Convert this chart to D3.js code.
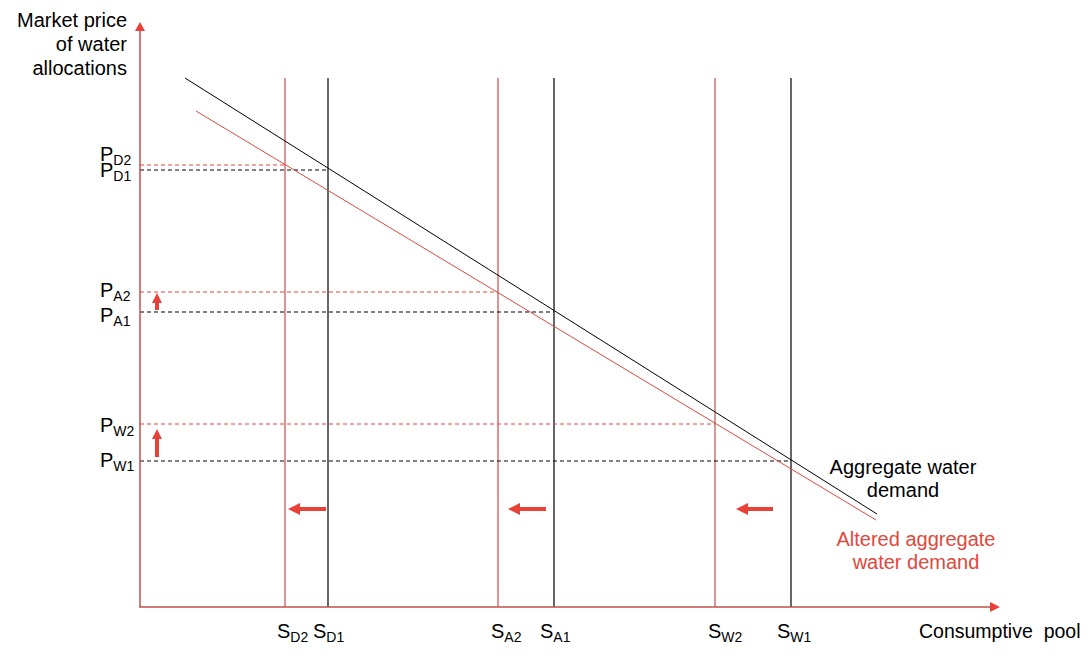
<!DOCTYPE html>
<html><head><meta charset="utf-8">
<script src="https://cdn.jsdelivr.net/npm/d3@7"></script>
<style>body{margin:0;background:#fff}svg{display:block}text{font-family:"Liberation Sans",Arial,sans-serif}</style>
</head><body>
<svg id="c" width="1092" height="656"></svg>
<script>
// Abstract chart units: quantity 0..860, price 0..585
const supplyNames = ["D2","D1","A2","A1","W2","W1"];
const supplyValues = [145, 188, 358, 414, 575, 651];
const supplyKind = ["altered","base","altered","base","altered","base"];
const priceNames = ["D2","D1","A2","A1","W2","W1"];
const priceValues = [442, 437, 315, 295, 183, 146];
const priceKind = ["altered","base","altered","base","altered","base"];
const demandBase = [[45, 529], [737, 93]];
const demandAltered = [[56, 496], [736, 87]];
const supplyTop = 529;
const shiftLeftFrom = [186, 406, 633];
const shiftLeftTo = [148, 368, 596];
const shiftLeftAt = 98;
const shiftUpX = 17;
const shiftUpFrom = [297, 150];
const shiftUpTo = [314, 178];

const svg = d3.select("#c");
const x = d3.scaleLinear().domain([0, 860]).range([140, 1000]);
const y = d3.scaleLinear().domain([0, 585]).range([607, 22]);

const axisCol = "#c0504d", arrowCol = "#e8413a", altCol = "#e0483e";

// supply verticals
supplyValues.forEach((v,i)=>{
  svg.append("line").attr("x1",x(v)).attr("x2",x(v)).attr("y1",y(supplyTop)).attr("y2",y(0))
    .attr("stroke", supplyKind[i]==="base" ? "#000" : axisCol).attr("stroke-width",1.2);
});
// price dashed lines
priceValues.forEach((p,i)=>{
  svg.append("line").attr("x1",x(0)).attr("x2",x(supplyValues[i])).attr("y1",y(p)).attr("y2",y(p))
    .attr("stroke", priceKind[i]==="base" ? "#000" : altCol).attr("stroke-width",1)
    .attr("stroke-dasharray","4,3");
});
// demand curves
const line = d3.line().x(d=>x(d[0])).y(d=>y(d[1]));
svg.append("path").attr("d",line(demandBase)).attr("stroke","#000").attr("fill","none").attr("stroke-width",1);
svg.append("path").attr("d",line(demandAltered)).attr("stroke",altCol).attr("fill","none").attr("stroke-width",1);

// axes
svg.append("line").attr("x1",x(0)).attr("x2",x(0)).attr("y1",y(0)).attr("y2",y(576)).attr("stroke",axisCol).attr("stroke-width",1.5);
svg.append("line").attr("x1",x(0)-1).attr("x2",x(852)).attr("y1",y(0)).attr("y2",y(0)).attr("stroke",axisCol).attr("stroke-width",1.5);
svg.append("path").attr("d",`M${x(0)-5},${y(576)} L${x(0)},${y(585)} L${x(0)+5},${y(576)} Z`).attr("fill",arrowCol);
svg.append("path").attr("d",`M${x(850)},${y(0)-5} L${x(860)},${y(0)} L${x(850)},${y(0)+5} Z`).attr("fill",arrowCol);

// shift arrows
function hArrow(x1,x2,yy){ // pointing left from x1 to x2
  const hl=12, hw=6, sw=2;
  svg.append("path").attr("fill",arrowCol).attr("d",
    `M${x2},${yy} L${x2+hl},${yy-hw} L${x2+hl},${yy-sw} L${x1},${yy-sw} L${x1},${yy+sw} L${x2+hl},${yy+sw} L${x2+hl},${yy+hw} Z`);
}
function vArrow(xx,yTip,yTail){ // pointing up
  const hl=10, hw=5, sw=2;
  svg.append("path").attr("fill",arrowCol).attr("d",
    `M${xx},${yTip} L${xx-hw},${yTip+hl} L${xx-sw},${yTip+hl} L${xx-sw},${yTail} L${xx+sw},${yTail} L${xx+sw},${yTip+hl} L${xx+hw},${yTip+hl} Z`);
}
shiftLeftFrom.forEach((f,i)=>hArrow(x(f), x(shiftLeftTo[i]), y(shiftLeftAt)));
shiftUpFrom.forEach((f,i)=>vArrow(x(shiftUpX), y(shiftUpTo[i]), y(f)));

// price labels
const pBase = [161, 177, 297, 322, 432, 467];
priceNames.forEach((n,i)=>{
  const t = svg.append("text").attr("x",100).attr("y",pBase[i]).attr("font-size",20).attr("fill","#000");
  t.append("tspan").text("P");
  t.append("tspan").attr("font-size",14).attr("dy",4).text(n);
});
// supply labels
const sX = [277, 313, 491, 540, 708, 777];
supplyNames.forEach((n,i)=>{
  const t = svg.append("text").attr("x",sX[i]).attr("y",638).attr("font-size",20).attr("fill","#000");
  t.append("tspan").text("S");
  t.append("tspan").attr("font-size",14).attr("dy",4).text(n);
});

// axis titles
["Market price","of water","allocations"].forEach((s,i)=>{
  svg.append("text").attr("x",127).attr("y",27+i*24).attr("text-anchor","end").attr("font-size",20).attr("fill","#000").text(s);
});
svg.append("text").attr("x",919).attr("y",638).attr("font-size",19.5).attr("fill","#000").attr("xml:space","preserve").text("Consumptive  pool");

// curve labels
[["Aggregate water",474],["demand",497]].forEach(d=>{
  svg.append("text").attr("x",903).attr("y",d[1]).attr("text-anchor","middle").attr("font-size",20).attr("fill","#000").text(d[0]);
});
[["Altered aggregate",546],["water demand",569]].forEach(d=>{
  svg.append("text").attr("x",916).attr("y",d[1]).attr("text-anchor","middle").attr("font-size",20).attr("fill",altCol).text(d[0]);
});
</script>
</body></html>
